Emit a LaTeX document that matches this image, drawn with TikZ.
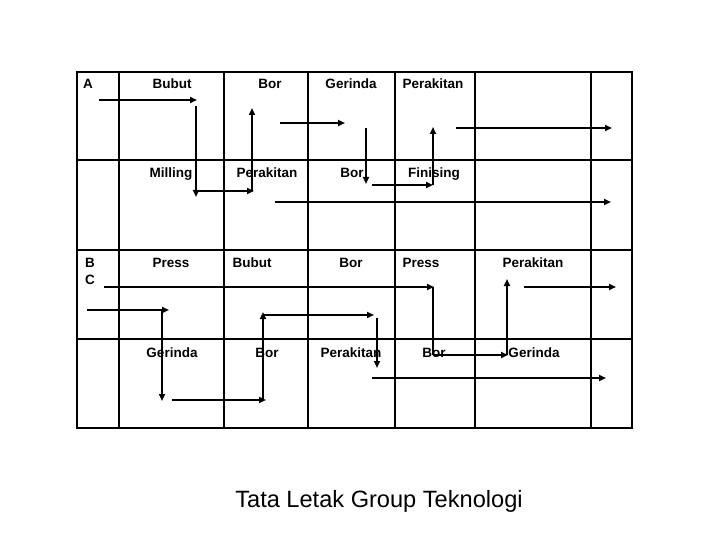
\documentclass[tikz,border=0pt]{standalone}
\usepackage{fontspec}
\setmainfont{Liberation Sans}
\usepackage{tikz}
\usetikzlibrary{arrows.meta}
\tikzset{
  grd/.style={line width=2pt},
  fl/.style={line width=1.8pt,-{Triangle[length=7pt,width=6pt]}},
  ln/.style={line width=1.8pt},
  lb/.style={anchor=base,inner sep=0pt,font=\fontsize{13.5}{15}\selectfont\bfseries},
  ttl/.style={anchor=base,inner sep=0pt,font=\fontsize{23.6}{26}\selectfont}
}

\begin{document}
\begin{tikzpicture}[x=1pt,y=-1pt]
\useasboundingbox (0,0) rectangle (720,540);
% grid
\draw[grd] (77,72) rectangle (632,428);
\foreach \gx in {119,224,308,395,475,591} \draw[grd] (\gx,72) -- (\gx,428);
\foreach \gy in {160.5,250,339} \draw[grd] (77,\gy) -- (632,\gy);
% labels, group A
\node[lb,anchor=base west] (ga) at (83,89) {A};
\node[lb] (a11) at (172,89) {Bubut};
\node[lb] (a12) at (270,89) {Bor};
\node[lb] (a13) at (351,89) {Gerinda};
\node[lb] (a14) at (433,89) {Perakitan};
\node[lb] (a21) at (171,178) {Milling};
\node[lb] (a22) at (267,178) {Perakitan};
\node[lb] (a23) at (352,178) {Bor};
\node[lb] (a24) at (434,178) {Finising};
% labels, group B C
\node[lb,anchor=base west] (gb) at (85,267) {B};
\node[lb,anchor=base west] (gc) at (85,284) {C};
\node[lb] (b11) at (171,267) {Press};
\node[lb] (b12) at (252,267) {Bubut};
\node[lb] (b13) at (351,267) {Bor};
\node[lb] (b14) at (421,267) {Press};
\node[lb] (b15) at (533,267) {Perakitan};
\node[lb] (b21) at (172,357) {Gerinda};
\node[lb] (b22) at (267,357) {Bor};
\node[lb] (b23) at (351,357) {Perakitan};
\node[lb] (b24) at (434,357) {Bor};
\node[lb] (b25) at (534,357) {Gerinda};
% flow A
\draw[fl] (99,100) -- (197,100);
\draw[fl] (196,106) -- (196,197);
\draw[fl] (196,191) -- (254,191);
\draw[fl] (252,191) -- (252,108);
\draw[fl] (280,123) -- (345,123);
\draw[fl] (366,128) -- (366,184);
\draw[fl] (372,185) -- (433,185);
\draw[fl] (433,185) -- (433,127);
\draw[fl] (456,128) -- (612,128);
\draw[fl] (275,202) -- (611,202);
% flow B C
\draw[fl] (104,287) -- (434,287);
\draw[ln] (433,287) -- (433,355);
\draw[fl] (433,355) -- (508,355);
\draw[fl] (507,355) -- (507,279);
\draw[fl] (524,287) -- (616,287);
\draw[fl] (87,310) -- (169,310);
\draw[fl] (162,310) -- (162,401);
\draw[fl] (172,400) -- (266,400);
\draw[fl] (263,400) -- (263,312);
\draw[fl] (263,315) -- (374,315);
\draw[fl] (377,318) -- (377,368);
\draw[fl] (372,378) -- (606,378);
% title
\node[ttl] (judul) at (379,507) {Tata Letak Group Teknologi};
\end{tikzpicture}
\end{document}
